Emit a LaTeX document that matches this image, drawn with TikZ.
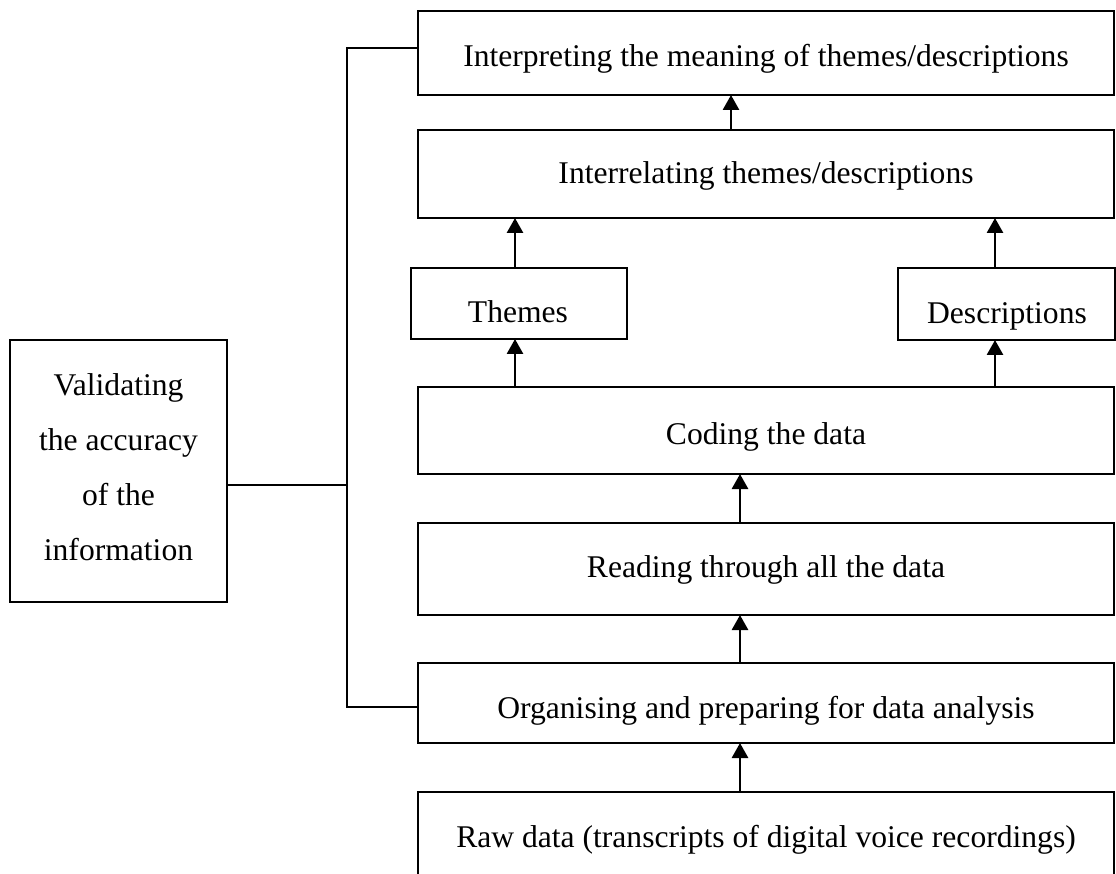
\documentclass[tikz,border=0pt]{standalone}
\usepackage{fontspec}
\setmainfont{Liberation Serif}
\usetikzlibrary{arrows.meta}
\begin{document}
\begin{tikzpicture}[x=1pt,y=-1pt,
  box/.style={draw,line width=1.8pt,inner sep=0pt,outer sep=0pt,anchor=north west},
  lbl/.style={anchor=base,inner sep=0pt,font=\fontsize{31.6}{55}\selectfont},
  arr/.style={line width=2.8pt,-{Triangle[width=16pt,length=15pt]}},
  link/.style={line width=1.8pt}]
\path[use as bounding box,fill=white] (0,0) rectangle (1116,874);
% boxes
\node[box,minimum width=696pt,minimum height=84pt] (interp) at (418,11) {};
\node[box,minimum width=696pt,minimum height=88pt] (interrel) at (418,130) {};
\node[box,minimum width=216pt,minimum height=71pt] (themes) at (411,268) {};
\node[box,minimum width=217pt,minimum height=72pt] (descr) at (898,268) {};
\node[box,minimum width=696pt,minimum height=87pt] (coding) at (418,387) {};
\node[box,minimum width=696pt,minimum height=92pt] (reading) at (418,523) {};
\node[box,minimum width=696pt,minimum height=80pt] (organ) at (418,663) {};
\node[box,minimum width=696pt,minimum height=95pt] (raw) at (418,792) {};
\node[box,minimum width=217pt,minimum height=262pt] (val) at (10,340) {};
% texts
\node[lbl] (interpT) at (766,67) {Interpreting the meaning of themes/descriptions};
\node[lbl] (interrelT) at (766,184) {Interrelating themes/descriptions};
\node[lbl] (themesT) at (518,323) {Themes};
\node[lbl] (descrT) at (1007,324) {Descriptions};
\node[lbl] (codingT) at (766,444) {Coding the data};
\node[lbl] (readingT) at (766,577) {Reading through all the data};
\node[lbl] (organT) at (766,718) {Organising and preparing for data analysis};
\node[lbl] (rawT) at (766,847) {Raw data (transcripts of digital voice recordings)};
\node[lbl,align=center] (valT) at (118.5,560) {Validating\\the accuracy\\of the\\information};
% connector lines
\coordinate (jtop) at (347,48);
\coordinate (jval) at (347,485);
\coordinate (jbot) at (347,707);
\draw[link] (interp.west |- jtop) -- (jtop) -- (jbot) -- (organ.west |- jbot);
\draw[link] (val.east |- jval) -- (jval);
% arrows
\coordinate (xa) at (731,0);
\coordinate (xb) at (740,0);
\coordinate (xl) at (515,0);
\coordinate (xr) at (995,0);
\draw[arr] (interrel.north -| xa) -- (interp.south -| xa);
\draw[arr] (themes.north -| xl) -- (interrel.south -| xl);
\draw[arr] (descr.north -| xr) -- (interrel.south -| xr);
\draw[arr] (coding.north -| xl) -- (themes.south -| xl);
\draw[arr] (coding.north -| xr) -- (descr.south -| xr);
\draw[arr] (reading.north -| xb) -- (coding.south -| xb);
\draw[arr] (organ.north -| xb) -- (reading.south -| xb);
\draw[arr] (raw.north -| xb) -- (organ.south -| xb);
\end{tikzpicture}
\end{document}
